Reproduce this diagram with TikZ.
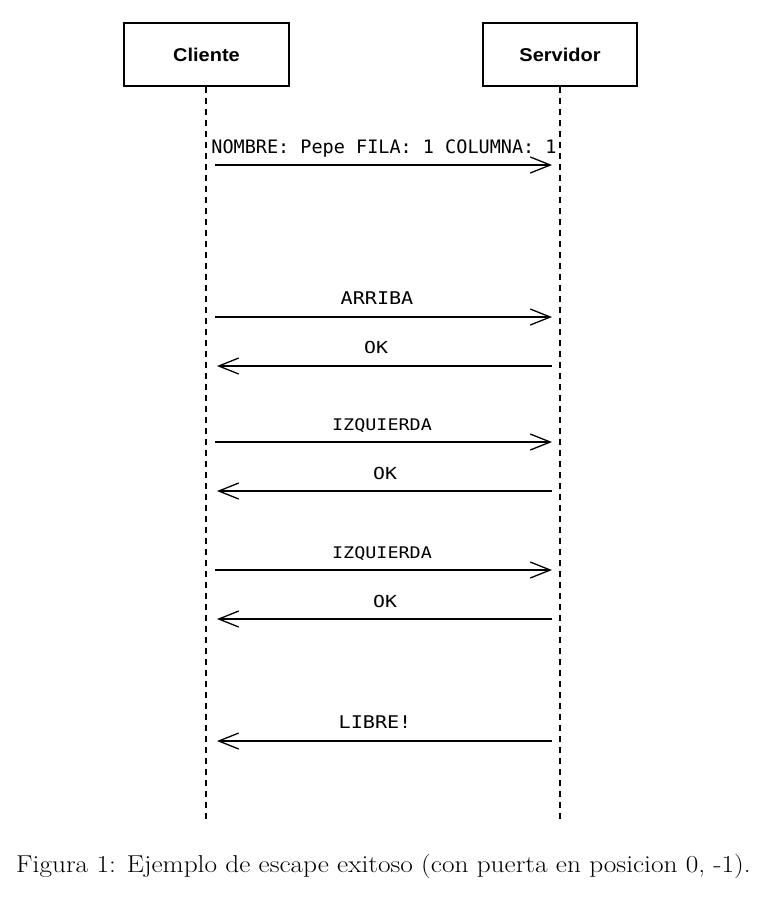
\documentclass[tikz,border=0pt]{standalone}
\usepackage{fontspec}
\usetikzlibrary{arrows.meta}
\newfontfamily\hdrfont{Liberation Sans}
\newfontfamily\msgfont{DejaVu Sans Mono}
\begin{document}
\begin{tikzpicture}[x=1pt,y=-1pt,
  actor/.style={draw,line width=1.3pt,minimum width=#1,minimum height=63pt,inner sep=0pt,
    font=\hdrfont\bfseries\fontsize{18.5}{20}\selectfont},
  lifeline/.style={line width=1.4pt,dash pattern=on 6pt off 5pt},
  msg/.style={line width=1.3pt,-{Straight Barb[length=20pt,width=16pt,line width=1.3pt]}},
  lbl/.style={anchor=base,inner sep=0pt,font=\msgfont\fontsize{#1}{#1}\selectfont},
]
\useasboundingbox (0,0) rectangle (766,899);
\node[actor=165pt] (cli) at (206.5,54.5) {\scalebox{1.08}[1]{Cliente}};
\node[actor=154pt] (srv) at (560,54.5) {\scalebox{1.08}[1]{Servidor}};
\coordinate (cliend) at (206,820);
\coordinate (srvend) at (560,820);
\draw[lifeline] (cli.south -| cliend) -- (cliend);
\draw[lifeline] (srv.south -| srvend) -- (srvend);
% message endpoints
\foreach \n/\y in {a/165,b/317,c/366,d/442,e/491,f/570,g/619,h/741}{
  \coordinate (L\n) at (215,\y);
  \coordinate (R\n) at (552,\y);
}
\draw[msg] (La) -- (Ra);
\draw[msg] (Lb) -- (Rb);
\draw[msg] (Rc) -- ([xshift=2pt]Lc);
\draw[msg] (Ld) -- (Rd);
\draw[msg] (Re) -- ([xshift=2pt]Le);
\draw[msg] (Lf) -- (Rf);
\draw[msg] (Rg) -- ([xshift=2pt]Lg);
\draw[msg] (Rh) -- ([xshift=2pt]Lh);
% labels
\node[lbl=18.5] (ta) at (384,153) {NOMBRE: Pepe FILA: 1 COLUMNA: 1};
\node[lbl=17.5] (tb) at (377,304) {\scalebox{1.15}[1]{ARRIBA}};
\node[lbl=16.5] (tc) at (376,353) {\scalebox{1.2}[1]{OK}};
\node[lbl=16] (td) at (382,430) {\scalebox{1.15}[1]{IZQUIERDA}};
\node[lbl=16.5] (te) at (385,479) {\scalebox{1.2}[1]{OK}};
\node[lbl=16] (tf) at (382,558) {\scalebox{1.15}[1]{IZQUIERDA}};
\node[lbl=16.5] (tg) at (385,607) {\scalebox{1.2}[1]{OK}};
\node[lbl=17.5] (th) at (375,728) {\scalebox{1.15}[1]{LIBRE!}};
% caption
\node[anchor=base,inner sep=0pt,font=\fontsize{24.4}{28}\selectfont] (cap) at (383.5,872)
  {\scalebox{1.12}[1]{Figura 1: Ejemplo de escape exitoso (con puerta en posicion 0, -1).}};
\end{tikzpicture}
\end{document}
